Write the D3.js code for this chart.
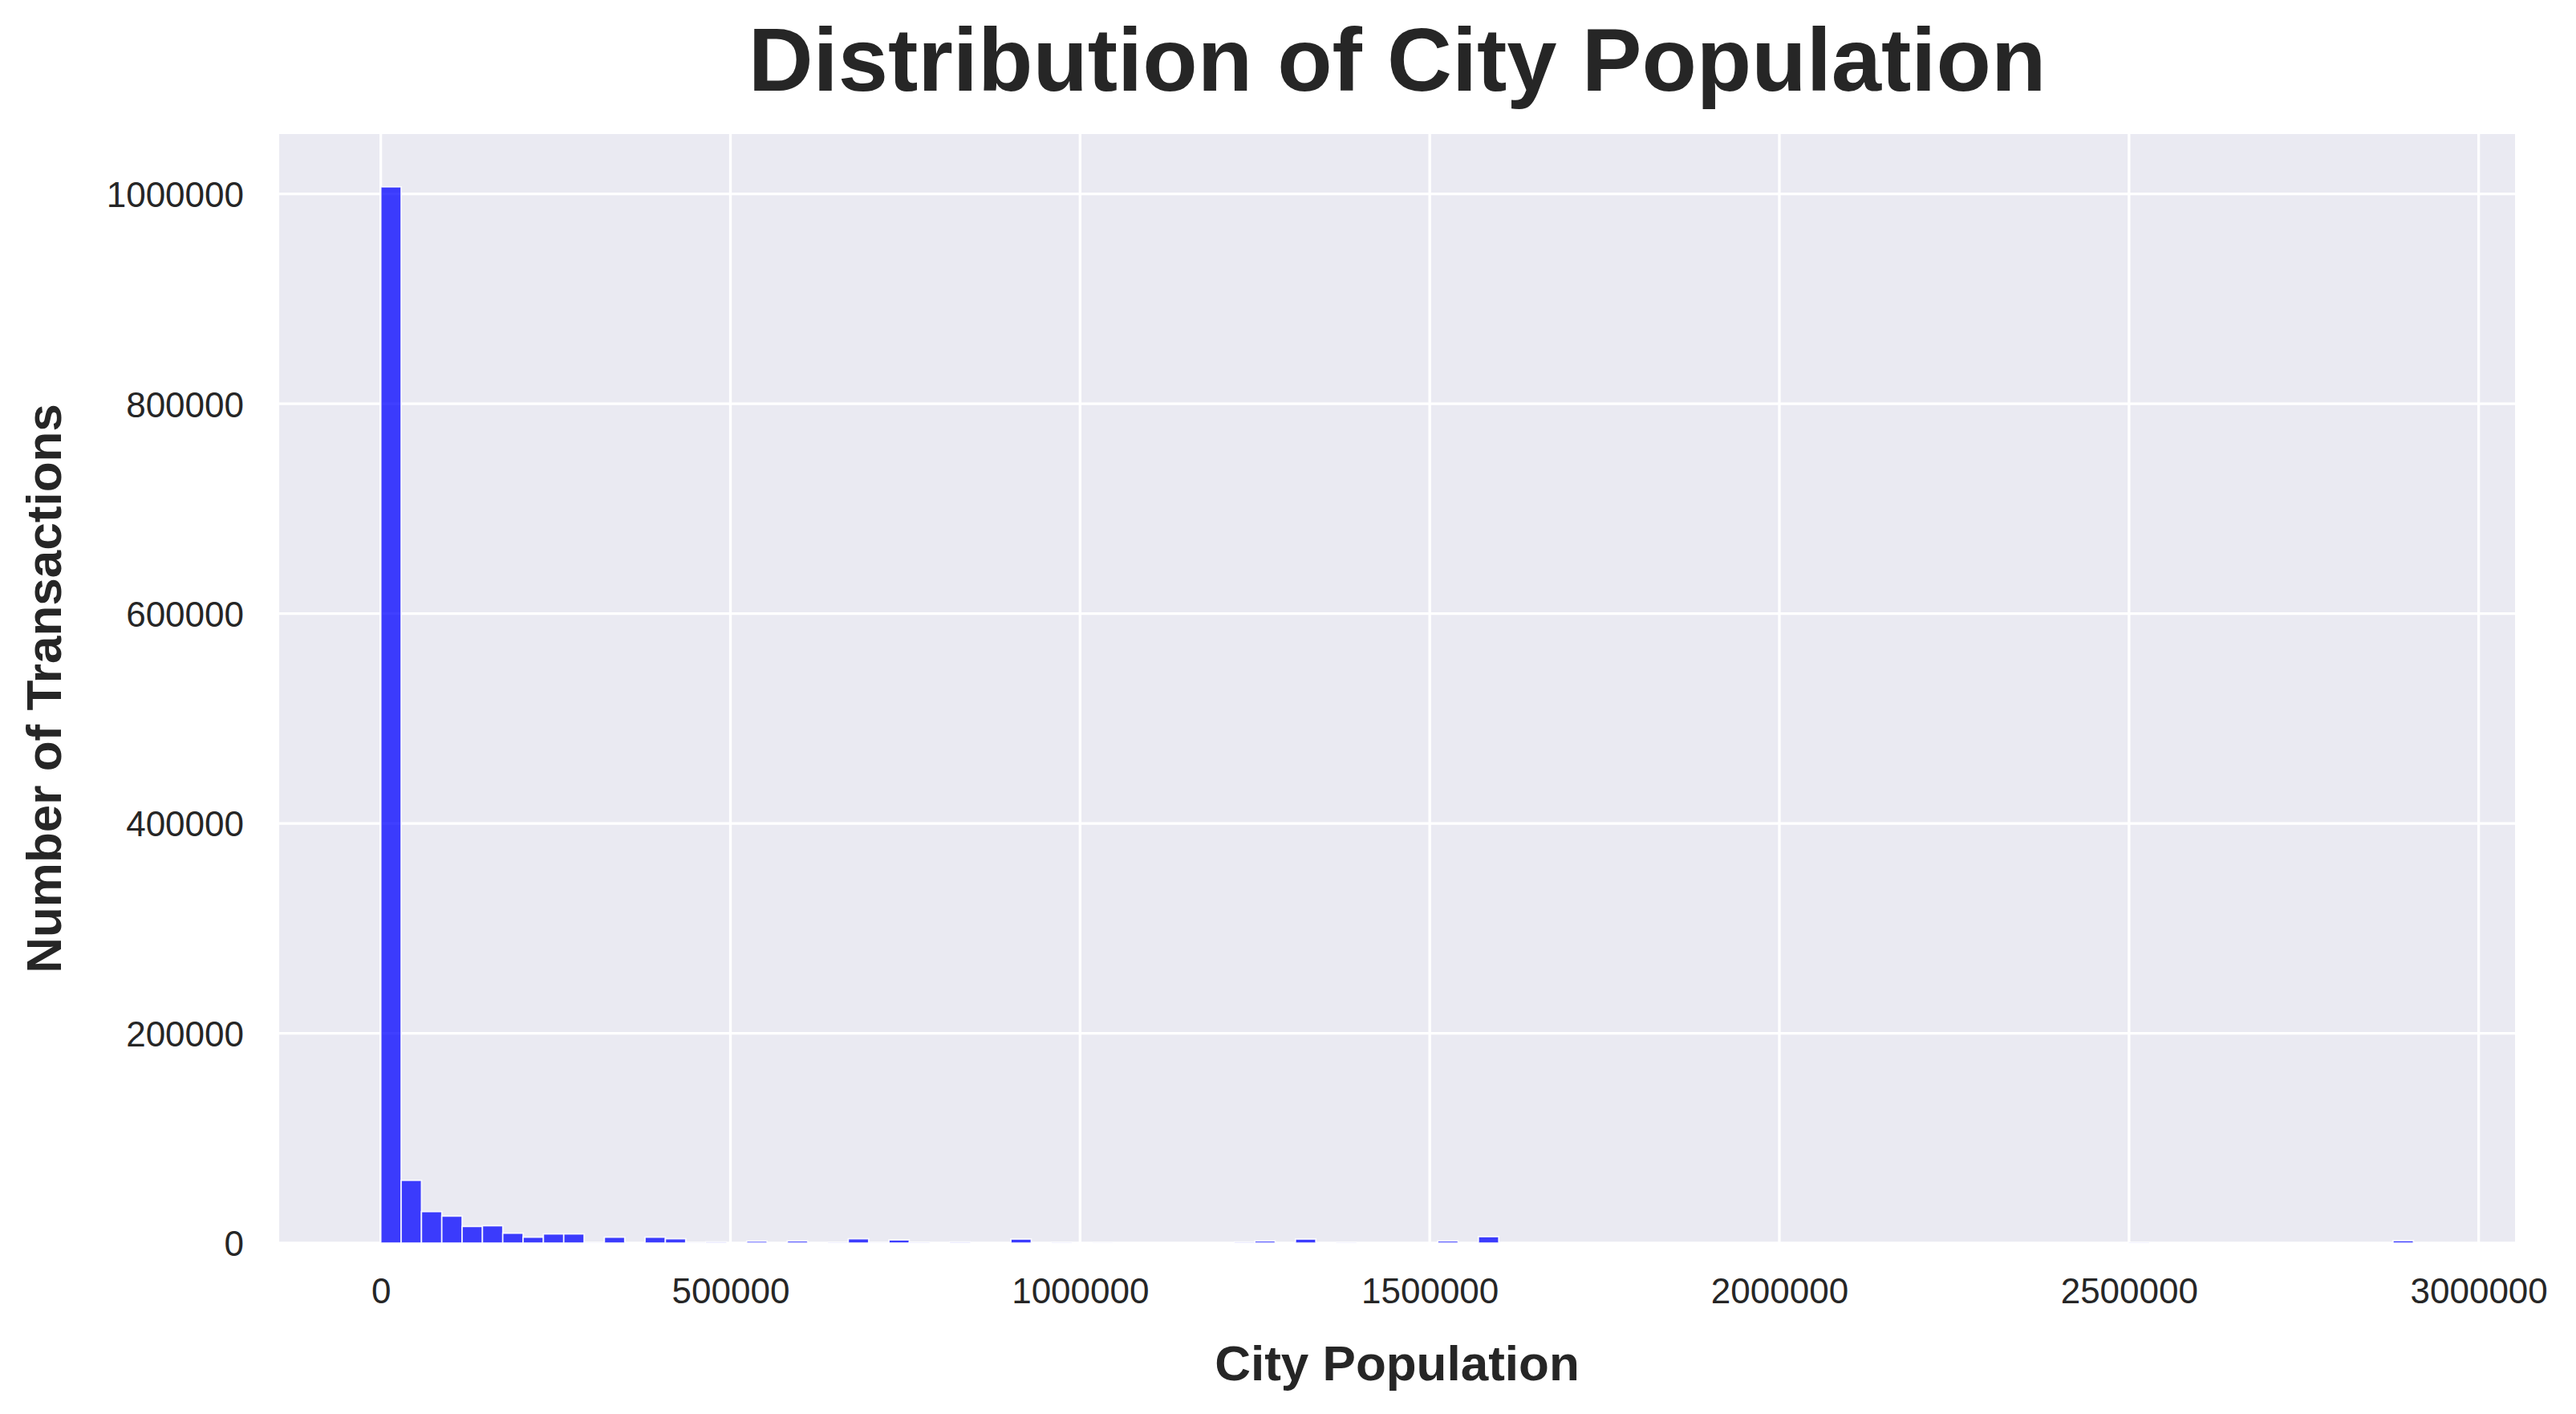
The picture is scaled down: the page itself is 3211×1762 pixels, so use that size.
<!DOCTYPE html>
<html>
<head>
<meta charset="utf-8">
<script src="https://cdn.jsdelivr.net/npm/d3@7"></script>
<style>
  html, body { margin: 0; padding: 0; background: #ffffff; }
  svg { display: block; }
  text { font-family: "Liberation Sans", Arial, Helvetica, sans-serif; fill: #262626; }
</style>
</head>
<body>
<script>
// ---- data ----
const binStart = 23;          // smallest city population
const binEnd = 2906700;       // largest city population
const binCounts = [
  1006800, 59800, 30000, 25700, 15800, 16500, 9400, 5600, 8700, 8700,
  300, 5600, 0, 5600, 4100, 300, 1100, 0, 1800, 0,
  2000, 0, 600, 4100, 300, 3000, 600, 0, 1000, 0,
  0, 3800, 0, 500, 0, 200, 0, 0, 0, 0,
  0, 0, 1000, 2000, 0, 3800, 0, 400, 0, 0,
  0, 0, 2000, 0, 6100, 0, 0, 0, 0, 0,
  0, 0, 0, 0, 0, 0, 0, 0, 0, 0,
  0, 0, 0, 0, 0, 0, 0, 0, 0, 0,
  0, 0, 0, 0, 0, 0, 500, 0, 0, 0,
  0, 0, 0, 0, 0, 0, 0, 0, 0, 2300
];
const xTicks = [0, 500000, 1000000, 1500000, 2000000, 2500000, 3000000];
const yTicks = [0, 200000, 400000, 600000, 800000, 1000000];
const titleText = "Distribution of City Population";
const xLabelText = "City Population";
const yLabelText = "Number of Transactions";

// ---- layout ----
const W = 3211, H = 1762;
const plot = { left: 348, right: 3135, top: 167, bottom: 1549 };

const nBins = binCounts.length;
const binW = (binEnd - binStart) / nBins;
const bins = binCounts.map((c, i) => ({ x0: binStart + i * binW, x1: binStart + (i + 1) * binW, count: c }));

const pad = (binEnd - binStart) * 0.05;
const x = d3.scaleLinear().domain([binStart - pad, binEnd + pad]).range([plot.left, plot.right]);
const y = d3.scaleLinear().domain([0, d3.max(binCounts) * 1.05]).range([plot.bottom, plot.top]);

const svg = d3.select("body").append("svg").attr("width", W).attr("height", H);

// background
svg.append("rect")
  .attr("x", plot.left).attr("y", plot.top)
  .attr("width", plot.right - plot.left).attr("height", plot.bottom - plot.top)
  .attr("fill", "#eaeaf2");

// grid
const grid = svg.append("g");
grid.selectAll("line.vx").data(xTicks).join("line")
  .attr("x1", d => x(d)).attr("x2", d => x(d))
  .attr("y1", plot.top).attr("y2", plot.bottom)
  .attr("stroke", "#ffffff").attr("stroke-width", 3.3);
grid.selectAll("line.hy").data(yTicks).join("line")
  .attr("x1", plot.left).attr("x2", plot.right)
  .attr("y1", d => y(d)).attr("y2", d => y(d))
  .attr("stroke", "#ffffff").attr("stroke-width", 3.3);

// bars
svg.append("g").selectAll("rect").data(bins).join("rect")
  .attr("x", d => x(d.x0))
  .attr("width", d => x(d.x1) - x(d.x0))
  .attr("y", d => y(d.count))
  .attr("height", d => y(0) - y(d.count))
  .attr("fill", "rgba(0,0,255,0.75)")
  .attr("stroke", "rgba(255,255,255,0.9)")
  .attr("stroke-width", 1.7);

// x axis (no line, labels only)
const xAxis = d3.axisBottom(x).tickValues(xTicks).tickFormat(d3.format("d")).tickSize(0).tickPadding(0);
const gx = svg.append("g").attr("transform", `translate(0,${plot.bottom})`).call(xAxis);
gx.select(".domain").remove();
gx.selectAll("text")
  .attr("y", 75).attr("dy", null)
  .style("font-size", "44px")
  .style("font-family", "'Liberation Sans', Arial, sans-serif")
  .attr("fill", "#262626");

// y axis
const yAxis = d3.axisLeft(y).tickValues(yTicks).tickFormat(d3.format("d")).tickSize(0).tickPadding(0);
const gy = svg.append("g").attr("transform", `translate(${plot.left},0)`).call(yAxis);
gy.select(".domain").remove();
gy.selectAll("text")
  .attr("x", -44).attr("dy", "0.36em")
  .style("font-size", "44px")
  .style("font-family", "'Liberation Sans', Arial, sans-serif")
  .attr("fill", "#262626");

// title
svg.append("text")
  .attr("x", (plot.left + plot.right) / 2).attr("y", 113)
  .attr("text-anchor", "middle")
  .style("font-size", "112px").style("font-weight", "bold")
  .text(titleText);

// x label
svg.append("text")
  .attr("x", (plot.left + plot.right) / 2).attr("y", 1720)
  .attr("text-anchor", "middle")
  .style("font-size", "62px").style("font-weight", "bold")
  .text(xLabelText);

// y label
svg.append("text")
  .attr("transform", `translate(76,${(plot.top + plot.bottom) / 2}) rotate(-90)`)
  .attr("text-anchor", "middle")
  .style("font-size", "62px").style("font-weight", "bold")
  .text(yLabelText);
</script>
</body>
</html>
